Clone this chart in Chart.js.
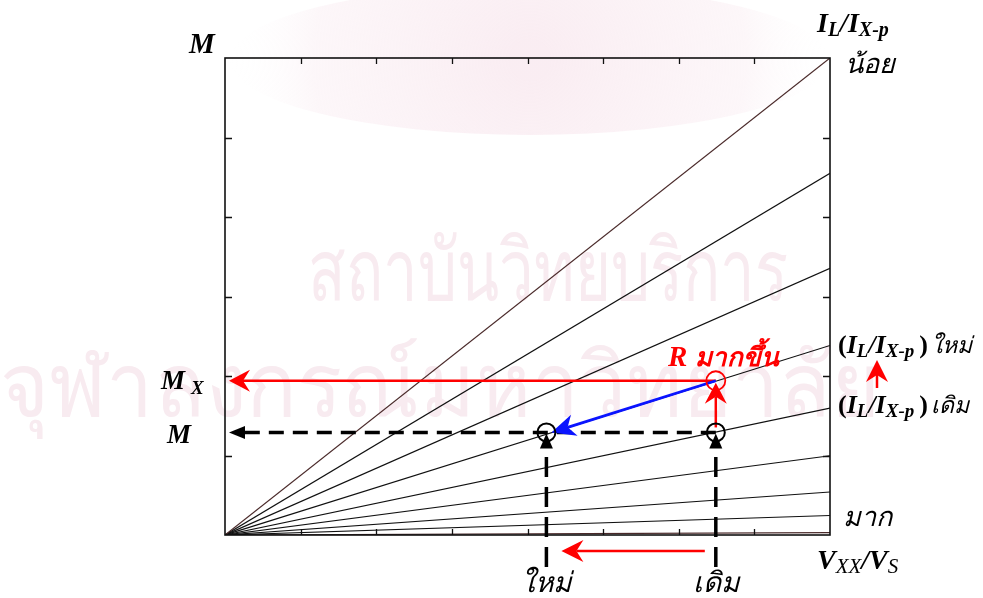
<!DOCTYPE html>
<html>
<head>
<meta charset="utf-8">
<script src="https://cdn.jsdelivr.net/npm/chart.js@4/dist/chart.umd.min.js"></script>
<style>
  html, body { margin: 0; padding: 0; background: #ffffff; }
  #wrap { width: 983px; height: 598px; }
</style>
</head>
<body>
<div id="wrap"><canvas id="c" width="983" height="598"></canvas></div>
<script>
// Axis extents (arbitrary units; the axes carry no numbers)
const xMax = 8;
const yMax = 6;
const xTickValues = [1, 2, 3, 4, 5, 6, 7];
const yTickValues = [1, 2, 3, 4, 5];

// Value of M at V_XX/V_S = xMax for each I_L/I_X-p line (small ratio at top, large at bottom)
const lineEnds = [6.0, 4.55, 3.355, 2.384, 1.597, 0.997, 0.541, 0.245, 0.03];

// Operating points
const vOld = 6.49;   // old V_XX/V_S
const vNew = 4.25;   // new V_XX/V_S
const mBase = 1.29;  // M at the old point
const mX = 1.94;     // M_X after R increases

const datasets = lineEnds.map((end, i) => ({
  data: [{ x: 0, y: 0 }, { x: xMax, y: end }],
  borderColor: (i === 0 || i === lineEnds.length - 1) ? '#4a2a2a' : '#111111',
  borderWidth: 1.2,
  pointRadius: 0,
  fill: false,
  tension: 0
}));

const SERIF = '"Liberation Serif", "Times New Roman", serif';

function rich(ctx, x, y, parts, color) {
  ctx.save();
  ctx.fillStyle = color || '#000';
  ctx.textBaseline = 'alphabetic';
  ctx.textAlign = 'left';
  let cx = x;
  for (const p of parts) {
    ctx.font = (p.style || 'italic bold') + ' ' + p.size + 'px ' + (p.family || SERIF);
    ctx.fillText(p.t, cx, y + (p.dy || 0));
    cx += ctx.measureText(p.t).width + (p.gap || 0);
  }
  ctx.restore();
  return cx;
}

function arrow(ctx, x1, y1, x2, y2, o) {
  const ang = Math.atan2(y2 - y1, x2 - x1);
  const len = o.headLen, hw = o.headWidth / 2;
  const ux = Math.cos(ang), uy = Math.sin(ang);
  const px = -uy, py = ux;
  const notch = o.notch || 0;
  ctx.save();
  ctx.strokeStyle = o.color;
  ctx.fillStyle = o.color;
  ctx.lineWidth = o.width;
  ctx.lineCap = 'butt';
  if (o.dash) ctx.setLineDash(o.dash);
  ctx.beginPath();
  ctx.moveTo(x1, y1);
  ctx.lineTo(x2 - ux * (len - notch), y2 - uy * (len - notch));
  ctx.stroke();
  ctx.setLineDash([]);
  ctx.beginPath();
  ctx.moveTo(x2, y2);
  ctx.lineTo(x2 - ux * len + px * hw, y2 - uy * len + py * hw);
  ctx.lineTo(x2 - ux * (len - notch), y2 - uy * (len - notch));
  ctx.lineTo(x2 - ux * len - px * hw, y2 - uy * len - py * hw);
  ctx.closePath();
  ctx.fill();
  ctx.restore();
}

function circle(ctx, x, y, r, color, w) {
  ctx.save();
  ctx.strokeStyle = color;
  ctx.lineWidth = w;
  ctx.beginPath();
  ctx.arc(x, y, r, 0, Math.PI * 2);
  ctx.stroke();
  ctx.restore();
}

function stretchedText(ctx, text, x, y, w, h, font) {
  ctx.save();
  ctx.font = font;
  const m = ctx.measureText(text);
  const tw = m.width;
  const th = m.actualBoundingBoxAscent + m.actualBoundingBoxDescent;
  ctx.translate(x, y);
  ctx.scale(w / tw, h / th);
  ctx.fillText(text, 0, m.actualBoundingBoxAscent);
  ctx.restore();
}

const backdrop = {
  id: 'backdrop',
  beforeDraw(chart) {
    const ctx = chart.ctx;
    ctx.save();
    // faint emblem haze at the top
    const g = ctx.createRadialGradient(530, 60, 20, 530, 60, 300);
    g.addColorStop(0, 'rgba(249,234,240,0.85)');
    g.addColorStop(0.7, 'rgba(251,241,245,0.6)');
    g.addColorStop(1, 'rgba(255,255,255,0)');
    ctx.fillStyle = g;
    ctx.beginPath();
    ctx.ellipse(530, 60, 300, 75, 0, 0, Math.PI * 2);
    ctx.fill();
    // institutional watermark text
    ctx.fillStyle = '#f8ebf0';
    stretchedText(ctx, 'สถาบันวิทยบริการ', 308, 232, 480, 68, '60px "Noto Sans", "DejaVu Sans", sans-serif');
    stretchedText(ctx, 'จุฬาลงกรณ์มหาวิทยาลัย', 0, 338, 880, 102, '60px "Noto Sans", "DejaVu Sans", sans-serif');
    ctx.restore();
  }
};

const frame = {
  id: 'frame',
  afterDatasetsDraw(chart) {
    const ctx = chart.ctx;
    const xs = chart.scales.x, ys = chart.scales.y;
    const a = chart.chartArea;
    ctx.save();
    ctx.strokeStyle = '#111';
    ctx.lineWidth = 1.6;
    ctx.strokeRect(a.left, a.top, a.right - a.left, a.bottom - a.top);
    ctx.lineWidth = 1.3;
    ctx.beginPath();
    for (const v of xTickValues) {
      const px = Math.round(xs.getPixelForValue(v)) + 0.5;
      ctx.moveTo(px, a.bottom); ctx.lineTo(px, a.bottom - 6);
      ctx.moveTo(px, a.top); ctx.lineTo(px, a.top + 6);
    }
    for (const v of yTickValues) {
      const py = Math.round(ys.getPixelForValue(v)) + 0.5;
      ctx.moveTo(a.left, py); ctx.lineTo(a.left + 7, py);
      ctx.moveTo(a.right, py); ctx.lineTo(a.right - 7, py);
    }
    ctx.stroke();
    ctx.restore();
  },
  afterDraw(chart) {
    const ctx = chart.ctx;
    const xs = chart.scales.x, ys = chart.scales.y;
    const a = chart.chartArea;
    const xo = xs.getPixelForValue(vOld), xn = xs.getPixelForValue(vNew);
    const yM = ys.getPixelForValue(mBase), yMX = ys.getPixelForValue(mX);
    const black = '#000', red = '#ff0000', blue = '#0a14ff';

    // dashed M guide with arrow to the axis
    arrow(ctx, xo, yM, a.left + 4, yM, { color: black, width: 3.5, headLen: 16, headWidth: 13, dash: [15, 9] });
    // M_X guide
    arrow(ctx, xo, yMX, a.left + 4, yMX, { color: red, width: 2.5, headLen: 21, headWidth: 22, notch: 7 });
    // dashed verticals from below the axis up to the points
    arrow(ctx, xn, 567, xn, yM + 1, { color: black, width: 3.5, headLen: 15, headWidth: 13, dash: [20, 10] });
    arrow(ctx, xo, 567, xo, yM + 1, { color: black, width: 3.5, headLen: 15, headWidth: 13, dash: [20, 10] });
    // rise of M from the old point
    arrow(ctx, xo, yM - 5, xo, yMX + 2, { color: red, width: 2.5, headLen: 21, headWidth: 22, notch: 7 });
    // move from the raised point to the new point
    arrow(ctx, xo, yMX, xn + 5, yM, { color: blue, width: 2.8, headLen: 24, headWidth: 22, notch: 7 });

    circle(ctx, xo, yMX, 9.5, red, 1.8);
    circle(ctx, xo, yM, 9, black, 2);
    circle(ctx, xn, yM, 9, black, 2);

    // shift of V_XX/V_S below the axis
    arrow(ctx, xo - 11, 551, xn + 15, 551, { color: red, width: 2.5, headLen: 22, headWidth: 22, notch: 7 });
    // increase of the ratio, right margin
    arrow(ctx, 877, 388, 877, 360, { color: red, width: 2.5, headLen: 22, headWidth: 22, notch: 7 });

    // axis titles
    rich(ctx, 189, 53, [{ t: 'M', size: 29 }]);
    rich(ctx, 817, 32, [
      { t: 'I', size: 28 }, { t: 'L', size: 20, dy: 4 }, { t: '/I', size: 28 }, { t: 'X-p', size: 20, dy: 4 }
    ]);
    rich(ctx, 845, 73, [{ t: 'น้อย', size: 27, style: 'italic' }]);
    rich(ctx, 843, 526, [{ t: 'มาก', size: 27, style: 'italic' }]);
    rich(ctx, 817, 569, [
      { t: 'V', size: 28 }, { t: 'XX', size: 21, dy: 4, style: 'italic' }, { t: '/V', size: 28 }, { t: 'S', size: 21, dy: 4, style: 'italic' }
    ]);
    const ratio = (y, word) => {
      let cx = rich(ctx, 838, y, [
        { t: '(', size: 26, style: 'bold' }, { t: 'I', size: 26 }, { t: 'L', size: 19, dy: 4 },
        { t: '/I', size: 26 }, { t: 'X-p', size: 19, dy: 4, gap: 5 }, { t: ')', size: 26, style: 'bold', gap: 3 }
      ]);
      rich(ctx, cx, y, [{ t: word, size: 23, style: 'italic' }]);
    };
    ratio(353, 'ใหม่');
    ratio(413, 'เดิม');

    // M labels on the left
    rich(ctx, 161, 389, [{ t: 'M', size: 27, gap: 6 }, { t: 'X', size: 19, dy: 5 }]);
    rich(ctx, 167, 443, [{ t: 'M', size: 27 }]);

    // R label
    rich(ctx, 668, 366, [{ t: 'R ', size: 29 }, { t: 'มากขึ้น', size: 26, style: 'italic bold' }], red);

    // old / new labels under the axis
    ctx.save();
    ctx.font = 'italic 28px ' + SERIF;
    ctx.fillStyle = '#000';
    ctx.textAlign = 'center';
    ctx.fillText('ใหม่', xn, 592);
    ctx.fillText('เดิม', xo, 592);
    ctx.restore();
  }
};

new Chart(document.getElementById('c'), {
  type: 'line',
  data: { datasets },
  options: {
    responsive: false,
    animation: false,
    events: [],
    layout: { padding: { left: 225, right: 153, top: 58, bottom: 63 } },
    plugins: { legend: { display: false }, tooltip: { enabled: false } },
    scales: {
      x: { type: 'linear', min: 0, max: xMax, display: false },
      y: { type: 'linear', min: 0, max: yMax, display: false }
    }
  },
  plugins: [backdrop, frame]
});
</script>
</body>
</html>
